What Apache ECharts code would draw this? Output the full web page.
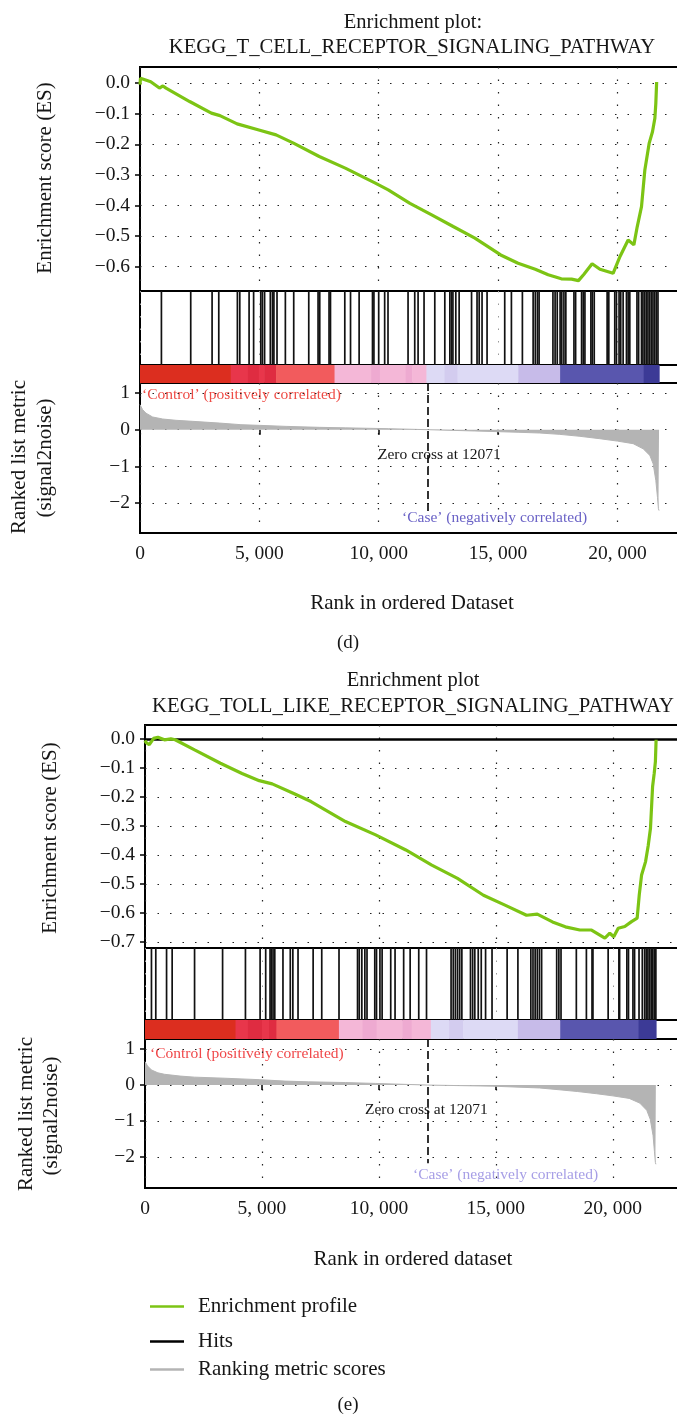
<!DOCTYPE html>
<html>
<head>
<meta charset="utf-8">
<script src="https://cdn.jsdelivr.net/npm/echarts@6/dist/echarts.min.js"></script>
<style>
  html, body { margin: 0; padding: 0; background: #fff; }
  #chart { width: 677px; height: 1414px; }
</style>
</head>
<body>
<div id="chart"></div>
<script>
// ---------- (d) KEGG_T_CELL_RECEPTOR_SIGNALING_PATHWAY ----------
const esRankD = [0, 20, 450, 815, 960, 1090, 2080, 2990, 3350, 4070, 4980, 5700, 6430, 7510, 8600, 9860, 10400, 11310, 12220, 13120, 14030, 15110, 15840, 16560, 17100, 17650, 18080, 18370, 18600, 18940, 19270, 19820, 20110, 20450, 20690, 20830, 21010, 21150, 21330, 21470, 21570, 21610, 21645];
const esScoreD = [-0.005, 0.016, 0.005, -0.016, -0.009, -0.016, -0.06, -0.098, -0.106, -0.133, -0.153, -0.169, -0.196, -0.24, -0.278, -0.327, -0.349, -0.393, -0.431, -0.469, -0.507, -0.562, -0.589, -0.609, -0.627, -0.64, -0.641, -0.646, -0.625, -0.591, -0.609, -0.622, -0.567, -0.513, -0.529, -0.47, -0.404, -0.284, -0.197, -0.159, -0.115, -0.066, 0.004];
const hitsD = [897, 2125, 3020, 3300, 4080, 4180, 4570, 4760, 5060, 5130, 5220, 5460, 5550, 5610, 5740, 6090, 6440, 7070, 7460, 7530, 7920, 7980, 8580, 8820, 9180, 9740, 9800, 10000, 10250, 10390, 11230, 11510, 11650, 11900, 12350, 12770, 12980, 13050, 13110, 13230, 13370, 13890, 14120, 14210, 14330, 14540, 15280, 15560, 16020, 16470, 16560, 16650, 16720, 17300, 17390, 17480, 17600, 17670, 17760, 17840, 18180, 18250, 18500, 18570, 18640, 18890, 18950, 19030, 19570, 19640, 19890, 19960, 20070, 20140, 20240, 20380, 20450, 20520, 20820, 20890, 21010, 21070, 21140, 21210, 21280, 21350, 21420, 21490, 21560, 21630, 21700];
const metricRankD = [0, 110, 250, 530, 950, 1510, 2210, 3330, 4230, 5000, 6120, 7520, 8600, 10400, 12071, 14030, 15840, 16750, 17590, 18430, 19260, 20000, 20660, 21080, 21360, 21500, 21610, 21680, 21720, 21745];
const metricD = [0.68, 0.545, 0.45, 0.345, 0.29, 0.255, 0.227, 0.18, 0.136, 0.118, 0.09, 0.064, 0.05, 0.027, 0, -0.035, -0.07, -0.09, -0.127, -0.18, -0.245, -0.31, -0.38, -0.52, -0.7, -0.93, -1.38, -1.84, -2.15, -2.2];
const barStartD = [0, 3800, 4520, 4980, 5200, 5700, 8150, 9680, 10050, 11130, 11400, 12000, 12760, 13300, 15850, 17600, 21100];
const barEndD = [3800, 4520, 4980, 5200, 5700, 8150, 9680, 10050, 11130, 11400, 12000, 12760, 13300, 15850, 17600, 21100, 21750];
const barLevelD = [0, 1, 8, 1, 8, 2, 3, 9, 3, 9, 3, 4, 10, 4, 5, 6, 7];
const esTicksD = [-0.6, -0.5, -0.4, -0.3, -0.2, -0.1, 0];

// ---------- (e) KEGG_TOLL_LIKE_RECEPTOR_SIGNALING_PATHWAY ----------
const esRankE = [0, 40, 184, 369, 553, 829, 1106, 1290, 2120, 3225, 4147, 4884, 5437, 6358, 7096, 8570, 9860, 11150, 12260, 13360, 14470, 15390, 16310, 16770, 17420, 17970, 18590, 19090, 19660, 19870, 20040, 20230, 20510, 20800, 21040, 21130, 21230, 21400, 21510, 21610, 21700, 21770, 21820, 21850];
const esScoreE = [-0.005, -0.012, -0.02, 0.002, 0.006, -0.003, 0.0, -0.003, -0.038, -0.084, -0.119, -0.144, -0.155, -0.188, -0.216, -0.285, -0.331, -0.383, -0.435, -0.481, -0.539, -0.573, -0.608, -0.604, -0.631, -0.648, -0.659, -0.659, -0.687, -0.67, -0.682, -0.653, -0.647, -0.63, -0.618, -0.538, -0.469, -0.423, -0.369, -0.308, -0.164, -0.118, -0.078, -0.003];
const hitsE = [276, 461, 922, 1161, 2119, 3317, 4294, 4921, 5160, 5345, 5400, 5474, 5548, 5898, 6211, 6321, 6542, 7188, 7556, 8294, 9086, 9160, 9270, 9399, 9491, 9823, 9897, 10044, 10137, 10505, 10690, 11058, 11335, 11703, 12035, 13085, 13178, 13270, 13362, 13454, 13546, 13915, 14007, 14099, 14246, 14375, 14560, 14836, 15481, 15942, 16495, 16587, 16679, 16771, 16863, 16956, 17600, 17693, 17785, 18440, 18870, 19110, 19150, 19800, 20260, 20290, 20600, 20670, 20860, 20930, 21120, 21260, 21360, 21430, 21500, 21570, 21640, 21710, 21780, 21840];
const metricRankE = [0, 110, 276, 550, 830, 1500, 2120, 3410, 4880, 5990, 7000, 8570, 9860, 12071, 14840, 16860, 17700, 18500, 19300, 20000, 20700, 21150, 21450, 21600, 21720, 21780, 21820, 21840];
const metricE = [0.65, 0.53, 0.42, 0.34, 0.3, 0.25, 0.22, 0.19, 0.15, 0.11, 0.09, 0.07, 0.045, 0, -0.03, -0.08, -0.13, -0.18, -0.24, -0.3, -0.37, -0.5, -0.7, -0.95, -1.4, -1.85, -2.15, -2.2];
const barStartE = [0, 3870, 4400, 5000, 5300, 5620, 8290, 9300, 9900, 11000, 11400, 12220, 13000, 13600, 15940, 17750, 21100];
const barEndE = [3870, 4400, 5000, 5300, 5620, 8290, 9300, 9900, 11000, 11400, 12220, 13000, 13600, 15940, 17750, 21100, 21850];
const barLevelE = [0, 1, 8, 1, 8, 2, 3, 9, 3, 9, 3, 4, 10, 4, 5, 6, 7];
const esTicksE = [-0.7, -0.6, -0.5, -0.4, -0.3, -0.2, -0.1, 0];

const rankTicks = [0, 5000, 10000, 15000, 20000];
const metricTicks = [-2, -1, 0, 1];
const zeroCross = 12071;

// ---------- styling ----------
const FONT = '"Liberation Serif", "DejaVu Serif", serif';
const INK = '#161616';
const GREEN = '#7cc414';
const GRAY = '#b4b4b4';
const barPalette = ['#dc2e1f', '#e8364b', '#f25b5d', '#f4b7d7', '#dddaf5', '#c7bbe9', '#5956ae', '#3c3a96',
  '#df2c41', '#eeaad1', '#d3ccef'];
const dotted = { color: '#222', type: [1.5, 11], width: 1.2 };
const xMax = 23000;

const zip = (a, b) => a.map((v, i) => [v, b[i]]);
const fmtRank = v => rankTicks.indexOf(v) < 0 ? '' : (v === 0 ? '0' : (v / 1000) + ', 000');
const fmtES = v => {
  if (Math.abs(v * 10 - Math.round(v * 10)) > 1e-6) return '';
  const r = Math.round(v * 10) / 10;
  return (r < 0 ? '\u2212' : '') + Math.abs(r).toFixed(1);
};
const fmtMetric = v => {
  if (Math.abs(v - Math.round(v)) > 1e-6) return '';
  const r = Math.round(v);
  return (r < 0 ? '\u2212' : '') + Math.abs(r);
};

// panel layout: right edge runs past the page, as in the cropped figure
const layoutD = { left: 140, right: -12, tops: [67, 291, 365, 383], heights: [224, 74, 18, 150] };
const layoutE = { left: 145, right: -6, tops: [725, 948, 1020, 1039], heights: [223, 72, 19, 149] };

const grids = [];
[layoutD, layoutE].forEach(l => {
  for (let k = 0; k < 4; k++) {
    grids.push({ left: l.left, right: l.right, top: l.tops[k], height: l.heights[k],
      containLabel: false, outerBoundsMode: 'none',
      show: true, borderColor: '#000', borderWidth: 2, backgroundColor: 'transparent' });
  }
});

const xAxes = [];
const yAxes = [];
const yRanges = [[-0.68, 0.053], [0, 1], [0, 1], [-2.81, 1.27], [-0.721, 0.048], [0, 1], [0, 1], [-2.86, 1.28]];
for (let g = 0; g < 8; g++) {
  const kind = g % 4;
  xAxes.push({
    type: 'value', gridIndex: g, min: 0, max: xMax, interval: 5000,
    axisLine: { show: false },
    axisTick: { show: kind === 3, customValues: rankTicks, length: 5, lineStyle: { color: '#000', width: 1.5 } },
    axisLabel: { show: kind === 3, customValues: rankTicks, formatter: fmtRank, fontFamily: FONT, fontSize: 19.5, color: INK, margin: 11 },
    splitLine: { show: kind !== 2, lineStyle: kind === 1 ? { color: '#999', type: [1.5, 11], width: 1 } : dotted }
  });
  const shown = kind === 0 || kind === 3;
  const ticks = kind === 3 ? metricTicks : (g < 4 ? esTicksD : esTicksE);
  yAxes.push({
    type: 'value', gridIndex: g, min: yRanges[g][0], max: yRanges[g][1],
    splitNumber: kind === 0 ? 7 : 4,
    axisLine: { show: false },
    axisTick: { show: shown, customValues: ticks, length: 5, lineStyle: { color: '#000', width: 1.5 } },
    axisLabel: { show: shown, customValues: ticks, formatter: kind === 0 ? fmtES : fmtMetric, fontFamily: FONT, fontSize: 19.5, color: INK, margin: 10 },
    splitLine: { show: shown, lineStyle: dotted }
  });
}

function hitSeries(hits, axis) {
  return {
    type: 'custom', name: 'Hits', xAxisIndex: axis, yAxisIndex: axis, silent: true,
    data: hits.map(h => [h, 1]),
    renderItem: (params, api) => {
      const a = api.coord([api.value(0), 1]);
      const b = api.coord([api.value(0), 0]);
      return { type: 'line', shape: { x1: a[0], y1: a[1], x2: b[0], y2: b[1] },
        style: { stroke: '#111', lineWidth: 1.7 } };
    }
  };
}

function barSeries(starts, ends, levels, axis) {
  return {
    type: 'custom', xAxisIndex: axis, yAxisIndex: axis, silent: true,
    data: levels.map((lv, i) => [starts[i], ends[i], lv]),
    renderItem: (params, api) => {
      const a = api.coord([api.value(0), 1]);
      const b = api.coord([api.value(1), 0]);
      return { type: 'rect', shape: { x: a[0], y: a[1], width: b[0] - a[0] + 0.5, height: b[1] - a[1] },
        style: { fill: barPalette[api.value(2)] } };
    }
  };
}

function esSeries(rank, score, axis, zeroLine) {
  const s = {
    type: 'line', name: 'Enrichment profile', xAxisIndex: axis, yAxisIndex: axis,
    data: zip(rank, score), showSymbol: false, color: GREEN,
    lineStyle: { width: 3.2, color: GREEN }, z: 5
  };
  if (zeroLine) {
    s.markLine = { silent: true, symbol: 'none', label: { show: false },
      lineStyle: { color: '#000', type: 'solid', width: 2.5 }, data: [{ yAxis: 0 }] };
  }
  return s;
}

function metricSeries(rank, metric, axis, top, bottom) {
  return {
    type: 'line', name: 'Ranking metric scores', xAxisIndex: axis, yAxisIndex: axis,
    data: zip(rank, metric), showSymbol: false, color: GRAY,
    lineStyle: { width: 1, color: GRAY }, areaStyle: { color: GRAY, opacity: 1 },
    markLine: { silent: true, symbol: 'none', label: { show: false },
      lineStyle: { color: '#000', type: [8, 4], width: 1.6 },
      data: [[{ coord: [zeroCross, top] }, { coord: [zeroCross, bottom] }]] }
  };
}

function txt(x, y, text, size, opts) {
  opts = opts || {};
  return {
    type: 'text', x: x, y: y, rotation: opts.rot || 0, silent: true,
    style: { text: text, font: size + 'px ' + FONT, fill: opts.color || INK,
      textAlign: opts.align || 'center', textVerticalAlign: 'middle',
      align: opts.align || 'center', verticalAlign: 'middle' }
  };
}
const R90 = Math.PI / 2;

const graphics = [
  txt(413, 23, 'Enrichment plot:', 20.5),
  txt(412, 48, 'KEGG_T_CELL_RECEPTOR_SIGNALING_PATHWAY', 20.7),
  txt(45, 178, 'Enrichment score (ES)', 21, { rot: R90 }),
  txt(19, 457, 'Ranked list metric', 21, { rot: R90 }),
  txt(45, 458, '(signal2noise)', 21, { rot: R90 }),
  txt(142, 395, '\u2018Control\u2019 (positively correlated)', 15.5, { align: 'left', color: '#ee4b45' }),
  txt(378, 455, 'Zero cross at 12071', 15.5, { align: 'left' }),
  txt(402, 518, '\u2018Case\u2019 (negatively correlated)', 15.5, { align: 'left', color: '#6a62c6' }),
  txt(412, 603, 'Rank in ordered Dataset', 21),
  txt(348, 643, '(d)', 19),

  txt(413, 681, 'Enrichment plot', 20.5),
  txt(413, 707, 'KEGG_TOLL_LIKE_RECEPTOR_SIGNALING_PATHWAY', 20.7),
  txt(50, 838, 'Enrichment score (ES)', 21, { rot: R90 }),
  txt(26, 1114, 'Ranked list metric', 21, { rot: R90 }),
  txt(51, 1116, '(signal2noise)', 21, { rot: R90 }),
  txt(150, 1054, '\u2018Control (positively correlated)', 15.5, { align: 'left', color: '#f0484a' }),
  txt(365, 1110, 'Zero cross at 12071', 15.5, { align: 'left' }),
  txt(413, 1175, '\u2018Case\u2019 (negatively correlated)', 15.5, { align: 'left', color: '#a79fe6' }),
  txt(413, 1259, 'Rank in ordered dataset', 21),
  txt(348, 1405, '(e)', 19)
];

const legendItem = (name, color, top) => ({
  top: top, left: 145, orient: 'vertical', selectedMode: false,
  itemWidth: 34, itemHeight: 2.5, icon: 'rect',
  textStyle: { fontFamily: FONT, fontSize: 21, color: INK, padding: [0, 0, 0, 9] },
  data: [{ name: name, icon: 'rect', itemStyle: { color: color }, lineStyle: { color: color } }]
});

const chart = echarts.init(document.getElementById('chart'));
chart.setOption({
  animation: false,
  backgroundColor: '#fff',
  grid: grids,
  xAxis: xAxes,
  yAxis: yAxes,
  legend: [
    legendItem('Enrichment profile', GREEN, 1291),
    legendItem('Hits', '#000', 1326),
    legendItem('Ranking metric scores', GRAY, 1354)
  ],
  graphic: graphics,
  series: [
    esSeries(esRankD, esScoreD, 0, false),
    hitSeries(hitsD, 1),
    barSeries(barStartD, barEndD, barLevelD, 2),
    metricSeries(metricRankD, metricD, 3, 1.27, -2.26),
    esSeries(esRankE, esScoreE, 4, true),
    hitSeries(hitsE, 5),
    barSeries(barStartE, barEndE, barLevelE, 6),
    metricSeries(metricRankE, metricE, 7, 1.28, -2.17)
  ]
});
window.addEventListener('resize', () => chart.resize());
</script>
</body>
</html>
